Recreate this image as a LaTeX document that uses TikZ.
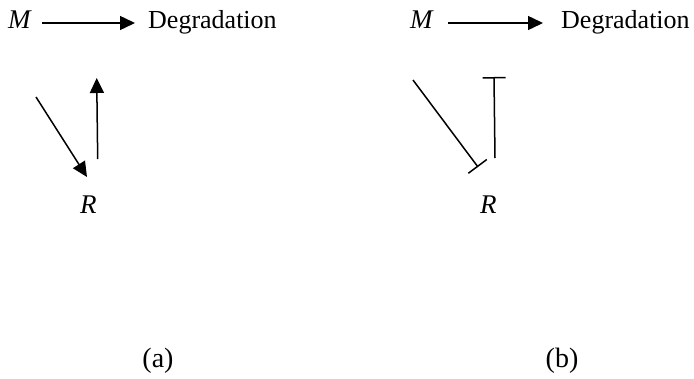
\documentclass[tikz,border=0pt]{standalone}
\usepackage{fontspec}
\setmainfont{Liberation Serif}
\usetikzlibrary{arrows.meta}
\begin{document}
\begin{tikzpicture}[x=1pt,y=-1pt,
  lbl/.style={inner sep=0pt,anchor=base west,font=\fontsize{26}{30}\selectfont},
  mlbl/.style={lbl,font=\fontsize{27}{30}\selectfont\itshape},
  sublbl/.style={inner sep=0pt,anchor=base,font=\fontsize{28}{32}\selectfont},
  act/.style={line width=1.5pt,-{Triangle[length=15pt,width=14pt]}},
  inh/.style={line width=1.5pt,-{Bar[width=23pt,line width=1.5pt]}}]
\useasboundingbox (0,0) rectangle (694,378);
% panel (a)
\node[mlbl] (Ma) at (8,28) {M};
\node[lbl] (Da) at (148,28) {Degradation};
\node[mlbl] (Ra) at (80,213) {R};
\coordinate (a1) at (42,23);
\coordinate (a2) at (135,23);
\draw[act] (a1) -- (a2);
\coordinate (a3) at (36,97);
\coordinate (a4) at (87,177);
\draw[act] (a3) -- (a4);
\coordinate (a5) at (97.7,159);
\coordinate (a6) at (96.7,78);
\draw[act] (a5) -- (a6);
\node[sublbl] (la) at (158,367) {(a)};
% panel (b)
\node[mlbl] (Mb) at (410,28) {M};
\node[lbl] (Db) at (561,28) {Degradation};
\node[mlbl] (Rb) at (480,213) {R};
\coordinate (b1) at (448,23);
\coordinate (b2) at (543,23);
\draw[act] (b1) -- (b2);
\coordinate (b3) at (413,80);
\coordinate (b4) at (478,167);
\draw[inh] (b3) -- (b4);
\coordinate (b5) at (495,158);
\coordinate (b6) at (494,77);
\draw[inh] (b5) -- (b6);
\node[sublbl] (lb) at (562,367) {(b)};
\end{tikzpicture}
\end{document}
